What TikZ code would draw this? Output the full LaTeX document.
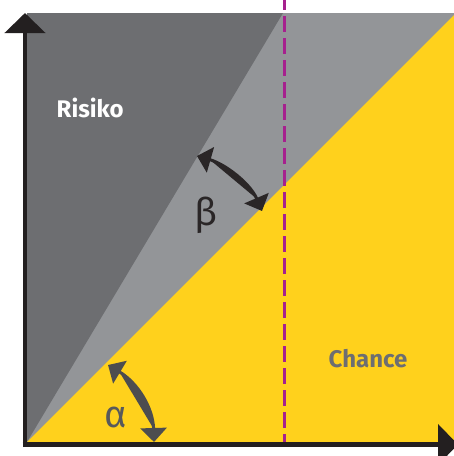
\documentclass[tikz,border=0pt]{standalone}
\usepackage{fontspec}
\setmainfont{Fira Sans}
\usetikzlibrary{arrows.meta}
\definecolor{darkgr}{HTML}{6D6E71}
\definecolor{lightgr}{HTML}{939598}
\definecolor{yel}{HTML}{FFD11C}
\definecolor{axisc}{HTML}{231F20}
\definecolor{purp}{HTML}{A6218E}
\definecolor{alphac}{HTML}{4D4D4F}
\definecolor{alphat}{HTML}{58595B}
\definecolor{betac}{HTML}{2A2627}
\tikzset{
  axisline/.style={draw=axisc, line width=4.5pt, -{Triangle[length=20pt,width=40pt]}},
  anglearrow/.style={line width=3pt, {Triangle[length=14pt,width=26pt]}-{Triangle[length=14pt,width=26pt]}},
  divider/.style={draw=purp, line width=3pt, dash pattern=on 16pt off 6pt, dash phase=6pt},
  lbl/.style={inner sep=0pt, font=\fontsize{24}{24}\selectfont\bfseries},
  greek/.style={inner sep=0pt, font=\fontsize{38}{38}\selectfont},
}
\begin{document}
\begin{tikzpicture}[x=1pt, y=-1pt]
\useasboundingbox (0,0) rectangle (454,456);
\clip (0,0) rectangle (454,456);
% regions
\fill[lightgr] (27,13) rectangle (454,442);
\fill[darkgr] (27,442) -- (283,13) -- (27,13) -- cycle;
\fill[yel] (27,442) -- (454,15) -- (454,442) -- cycle;
% dashed divider
\coordinate (dtop) at (284,0);
\coordinate (dbot) at (284,442);
\draw[divider] (dtop) -- (dbot);
% axes
\coordinate (ybot) at (25,447);
\coordinate (ytop) at (25,13);
\coordinate (xleft) at (22.7,444.5);
\coordinate (xright) at (458,444.5);
\draw[axisline] (ybot) -- (ytop);
\draw[axisline] (xleft) -- (xright);
% angle arrows
\coordinate (a1) at (108,365);
\coordinate (a2) at (154,442);
\draw[anglearrow, draw=alphac, fill=alphac] (a1) .. controls (138,383) and (153,408) .. (a2);
\coordinate (b1) at (197,156);
\coordinate (b2) at (262,211);
\draw[anglearrow, draw=betac, fill=betac] (b1) .. controls (225,164) and (250,183) .. (b2);
% labels
\node[lbl, text=white, anchor=base west] (risiko) at (56.5,117) {Risiko};
\node[lbl, text=darkgr, anchor=base west] (chance) at (328.5,367) {Chance};
\node[greek, text=alphat, anchor=base] (alpha) at (115.5,427) {α};
\node[greek, text=betac, anchor=base] (beta) at (206,225) {β};
\end{tikzpicture}
\end{document}
